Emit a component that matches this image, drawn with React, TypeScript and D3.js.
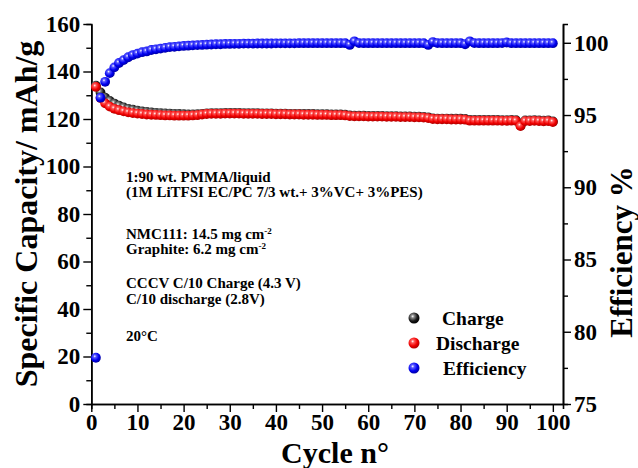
import React, { useEffect, useRef } from "react";
import * as d3 from "d3";

// cycle index 1..100
const cycles: number[] = d3.range(1, 101);

const chargeCap: number[] = [
  134.0, 131.2, 129.0, 127.6, 126.5, 125.6, 124.9, 124.3, 123.9, 123.5,
  123.2, 123.0, 122.8, 122.6, 122.5, 122.4, 122.3, 122.2, 122.1, 122.0,
  121.9, 121.9, 122.0, 122.2, 122.4, 122.5, 122.5, 122.5, 122.6, 122.6,
  122.6, 122.6, 122.5, 122.5, 122.5, 122.5, 122.4, 122.4, 122.4, 122.3,
  122.3, 122.3, 122.2, 122.2, 122.2, 122.1, 122.1, 122.1, 122.0, 122.0,
  122.0, 121.9, 121.9, 121.9, 121.8, 121.5, 121.4, 121.4, 121.4, 121.3,
  121.3, 121.3, 121.3, 121.2, 121.2, 121.2, 121.1, 121.1, 121.1, 121.0,
  121.0, 120.9, 120.7, 120.3, 120.2, 120.2, 120.2, 120.1, 120.1, 120.1,
  120.0, 119.6, 119.6, 119.6, 119.6, 119.6, 119.6, 119.6, 119.5, 119.5,
  119.6, 119.5, 117.3, 119.4, 119.4, 119.5, 119.4, 119.3, 119.4, 119.0,
];

const dischargeCap: number[] = [
  133.5, 128.8, 126.6, 125.2, 124.3, 123.7, 123.2, 122.8, 122.5, 122.3,
  122.1, 121.9, 121.8, 121.7, 121.6, 121.5, 121.5, 121.4, 121.4, 121.4,
  121.4, 121.5, 121.6, 121.9, 122.1, 122.2, 122.2, 122.2, 122.3, 122.3,
  122.3, 122.3, 122.2, 122.2, 122.2, 122.2, 122.1, 122.1, 122.1, 122.0,
  122.0, 122.0, 121.9, 121.9, 121.9, 121.8, 121.8, 121.8, 121.7, 121.7,
  121.7, 121.6, 121.6, 121.6, 121.5, 121.2, 121.1, 121.1, 121.1, 121.0,
  121.0, 121.0, 121.0, 120.9, 120.9, 120.9, 120.8, 120.8, 120.8, 120.7,
  120.7, 120.6, 120.4, 120.0, 119.9, 119.9, 119.9, 119.8, 119.8, 119.8,
  119.7, 119.3, 119.3, 119.3, 119.3, 119.3, 119.3, 119.3, 119.2, 119.2,
  119.3, 119.2, 117.0, 119.1, 119.1, 119.2, 119.1, 119.0, 119.1, 118.7,
];

const efficiency: number[] = [
  78.2, 96.2, 97.3, 97.9, 98.3, 98.6, 98.8, 99.0, 99.15, 99.25,
  99.35, 99.4, 99.5, 99.55, 99.6, 99.65, 99.7, 99.72, 99.75, 99.78,
  99.8, 99.82, 99.84, 99.85, 99.87, 99.88, 99.9, 99.9, 99.92, 99.92,
  99.93, 99.93, 99.94, 99.94, 99.94, 99.95, 99.95, 99.95, 99.95, 99.96,
  99.96, 99.96, 99.96, 99.96, 99.97, 99.97, 99.97, 99.97, 99.97, 99.97,
  99.97, 99.97, 99.97, 99.97, 99.97, 99.85, 100.1, 99.98, 99.97, 99.97,
  99.97, 99.97, 99.97, 99.97, 99.97, 99.97, 99.97, 99.97, 99.97, 99.97,
  99.97, 99.97, 99.85, 100.05, 99.98, 99.97, 99.97, 99.97, 99.97, 99.97,
  99.9, 100.1, 99.98, 99.97, 99.97, 99.97, 99.97, 99.97, 99.98, 100.02,
  99.97, 99.97, 99.97, 99.97, 99.97, 99.97, 99.97, 99.97, 99.97, 99.97,
];

const xTicks: number[] = [0, 10, 20, 30, 40, 50, 60, 70, 80, 90, 100];
const yLeftTicks: number[] = [0, 20, 40, 60, 80, 100, 120, 140, 160];
const yRightTicks: number[] = [75, 80, 85, 90, 95, 100];

const notes: string[][] = [
  ["1:90 wt. PMMA/liquid", ""],
  ["(1M LiTFSI EC/PC 7/3 wt.+ 3%VC+ 3%PES)", ""],
  ["NMC111: 14.5 mg cm", "-2"],
  ["Graphite: 6.2 mg cm", "-2"],
  ["CCCV C/10 Charge (4.3 V)", ""],
  ["C/10 discharge (2.8V)", ""],
  ["20°C", ""],
];
const noteBaselines: number[] = [182, 197, 239, 254, 288, 304, 341];

const legendItems = [
  { name: "Charge", grad: "gBlack", dx: 28 },
  { name: "Discharge", grad: "gRed", dx: 22 },
  { name: "Efficiency", grad: "gBlue", dx: 29 },
];

const FONT = "'Liberation Serif', 'Times New Roman', serif";

export default function App() {
  const svgRef = useRef<SVGSVGElement>(null);

  useEffect(() => {
    document.body.style.margin = "0";
    const svg = d3.select(svgRef.current);
    svg.selectAll("*").remove();

    const left = 91.3;
    const right = 563;
    const top = 24;
    const bottom = 404;

    const x = d3.scaleLinear().domain([0, 102.2]).range([left, right]);
    const yL = d3.scaleLinear().domain([0, 160]).range([bottom, top]);
    const yR = d3.scaleLinear().domain([75, 101.3]).range([bottom, top]);

    // --- GRADIENTS for sphere markers ---
    const defs = svg.append("defs");
    const grads = [
      { id: "gBlack", stops: ["#ffffff", "#8a8a8a", "#1a1a1a", "#000000"] },
      { id: "gRed", stops: ["#ffffff", "#ff5a5a", "#f00000", "#b00000"] },
      { id: "gBlue", stops: ["#ffffff", "#5a5aff", "#0000f0", "#0000a8"] },
    ];
    grads.forEach((g) => {
      const rg = defs
        .append("radialGradient")
        .attr("id", g.id)
        .attr("cx", "38%")
        .attr("cy", "35%")
        .attr("r", "65%");
      [0, 0.22, 0.65, 1].forEach((o, i) =>
        rg.append("stop").attr("offset", o).attr("stop-color", g.stops[i])
      );
    });

    // --- AXES ---
    const styleAxis = (g: any) => {
      g.select(".domain").attr("stroke", "#000").attr("stroke-width", 1.6);
      g.selectAll(".tick line").attr("stroke", "#000").attr("stroke-width", 1.4);
      g.selectAll(".tick text")
        .style("font-family", FONT)
        .style("font-weight", "bold")
        .style("font-size", "23px")
        .attr("fill", "#000");
    };

    // bottom
    svg
      .append("g")
      .attr("transform", `translate(0,${bottom})`)
      .call(
        d3.axisBottom(x).tickValues(d3.range(5, 100, 10)).tickSize(5).tickFormat(() => "")
      )
      .call(styleAxis);
    svg
      .append("g")
      .attr("transform", `translate(0,${bottom})`)
      .call(d3.axisBottom(x).tickValues(xTicks).tickSize(8).tickPadding(2).tickSizeOuter(0))
      .call(styleAxis);

    // left
    svg
      .append("g")
      .attr("transform", `translate(${left},0)`)
      .call(
        d3.axisLeft(yL).tickValues(d3.range(10, 160, 20)).tickSize(5).tickFormat(() => "")
      )
      .call(styleAxis);
    svg
      .append("g")
      .attr("transform", `translate(${left},0)`)
      .call(d3.axisLeft(yL).tickValues(yLeftTicks).tickSize(8).tickPadding(3).tickSizeOuter(0))
      .call(styleAxis);

    // right
    svg
      .append("g")
      .attr("transform", `translate(${right},0)`)
      .call(
        d3.axisRight(yR).tickValues(d3.range(77.5, 100, 5)).tickSize(5).tickFormat(() => "")
      )
      .call(styleAxis);
    svg
      .append("g")
      .attr("transform", `translate(${right},0)`)
      .call(d3.axisRight(yR).tickValues(yRightTicks).tickSize(8).tickPadding(3).tickSizeOuter(0))
      .call(styleAxis);

    // --- DATA POINTS ---
    const r = 4.9;
    const series = [
      { vals: chargeCap, y: yL, grad: "gBlack" },
      { vals: dischargeCap, y: yL, grad: "gRed" },
      { vals: efficiency, y: yR, grad: "gBlue" },
    ];
    series.forEach((s) => {
      svg
        .append("g")
        .selectAll("circle")
        .data(cycles)
        .join("circle")
        .attr("cx", (c) => x(c))
        .attr("cy", (c, i) => s.y(s.vals[i]))
        .attr("r", r)
        .attr("fill", `url(#${s.grad})`);
    });

    // --- ANNOTATION ---
    const note = svg
      .append("g")
      .style("font-family", FONT)
      .style("font-weight", "bold")
      .style("font-size", "15px")
      .attr("fill", "#000");
    notes.forEach((n, i) => {
      const t = note.append("text").attr("x", 126).attr("y", noteBaselines[i]);
      t.append("tspan").text(n[0]);
      if (n[1]) {
        t.append("tspan")
          .attr("baseline-shift", "super")
          .style("font-size", "9px")
          .text(n[1]);
      }
    });

    // --- LEGEND ---
    const leg = svg.append("g");
    legendItems.forEach((d, i) => {
      const cy = 318 + i * 25;
      leg
        .append("circle")
        .attr("cx", 414)
        .attr("cy", cy)
        .attr("r", 5.5)
        .attr("fill", `url(#${d.grad})`);
      leg
        .append("text")
        .attr("x", 414 + d.dx)
        .attr("y", cy + 7)
        .style("font-family", FONT)
        .style("font-weight", "bold")
        .style("font-size", "19.5px")
        .attr("fill", "#000")
        .text(d.name);
    });

    // --- AXIS TITLES ---
    const title = (sel: any, size: number) =>
      sel
        .style("font-family", FONT)
        .style("font-weight", "bold")
        .style("font-size", `${size}px`)
        .attr("fill", "#000")
        .attr("text-anchor", "middle");

    svg.append("text").attr("x", 335).attr("y", 463).call(title, 30).text("Cycle n°");
    svg
      .append("text")
      .attr("transform", `translate(37,214) rotate(-90)`)
      .call(title, 32)
      .text("Specific Capacity/ mAh/g");
    svg
      .append("text")
      .attr("transform", `translate(632,252) rotate(-90)`)
      .call(title, 31)
      .text("Efficiency %");
  }, []);

  return (
    <svg
      ref={svgRef}
      width="638"
      height="468"
      style={{ display: "block", background: "#fff" }}
    ></svg>
  );
}
